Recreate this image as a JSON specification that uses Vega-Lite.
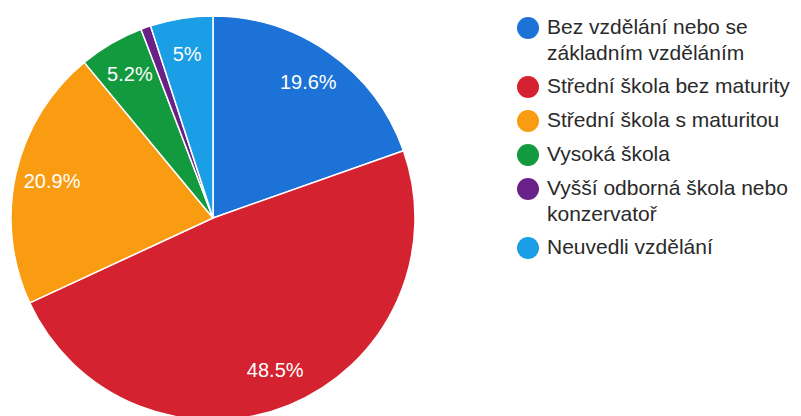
{
  "$schema": "https://vega.github.io/schema/vega-lite/v6.json",
  "width": 426,
  "height": 436,
  "padding": 0,
  "autosize": {"type": "pad"},
  "background": "white",
  "config": {
    "view": {"stroke": null},
    "style": {"guide-label": {"lineHeight": 26}}
  },
  "data": {
    "values": [
      {"category": "Bez vzdělání nebo se|základním vzděláním", "value": 19.6, "label": "19.6%", "order": 1},
      {"category": "Střední škola bez maturity", "value": 48.5, "label": "48.5%", "order": 2},
      {"category": "Střední škola s maturitou", "value": 20.9, "label": "20.9%", "order": 3},
      {"category": "Vysoká škola", "value": 5.2, "label": "5.2%", "order": 4},
      {"category": "Vyšší odborná škola nebo|konzervatoř", "value": 0.8, "label": "", "order": 5},
      {"category": "Neuvedli vzdělání", "value": 5.0, "label": "5%", "order": 6}
    ]
  },
  "encoding": {
    "theta": {"field": "value", "type": "quantitative", "stack": true},
    "order": {"field": "order", "type": "quantitative"}
  },
  "layer": [
    {
      "mark": {"type": "arc", "outerRadius": 202, "stroke": "white", "strokeWidth": 1.5},
      "encoding": {
        "color": {
          "field": "category",
          "type": "nominal",
          "sort": null,
          "scale": {
            "domain": ["Bez vzdělání nebo se|základním vzděláním", "Střední škola bez maturity", "Střední škola s maturitou", "Vysoká škola", "Vyšší odborná škola nebo|konzervatoř", "Neuvedli vzdělání"],
            "range": ["#1c72d6", "#d42231", "#f99c12", "#139a3e", "#6a2187", "#1a9ee6"]
          },
          "legend": {
            "orient": "none",
            "legendX": 517,
            "legendY": 17,
            "title": null,
            "labelExpr": "split(datum.label, '|')",
            "labelFont": "Liberation Sans",
            "labelFontSize": 21,
            "labelColor": "#2a2a2a",
            "labelBaseline": "middle",
            "labelOffset": 8,
            "labelLimit": 400,
            "symbolType": "circle",
            "symbolSize": 484,
            "symbolStrokeWidth": 0,
            "rowPadding": 12,
            "padding": 0
          }
        }
      }
    },
    {
      "mark": {"type": "text", "radius": 165, "font": "Liberation Sans", "fontSize": 20},
      "encoding": {
        "text": {"field": "label", "type": "nominal"},
        "color": {"value": "white"}
      }
    }
  ]
}
